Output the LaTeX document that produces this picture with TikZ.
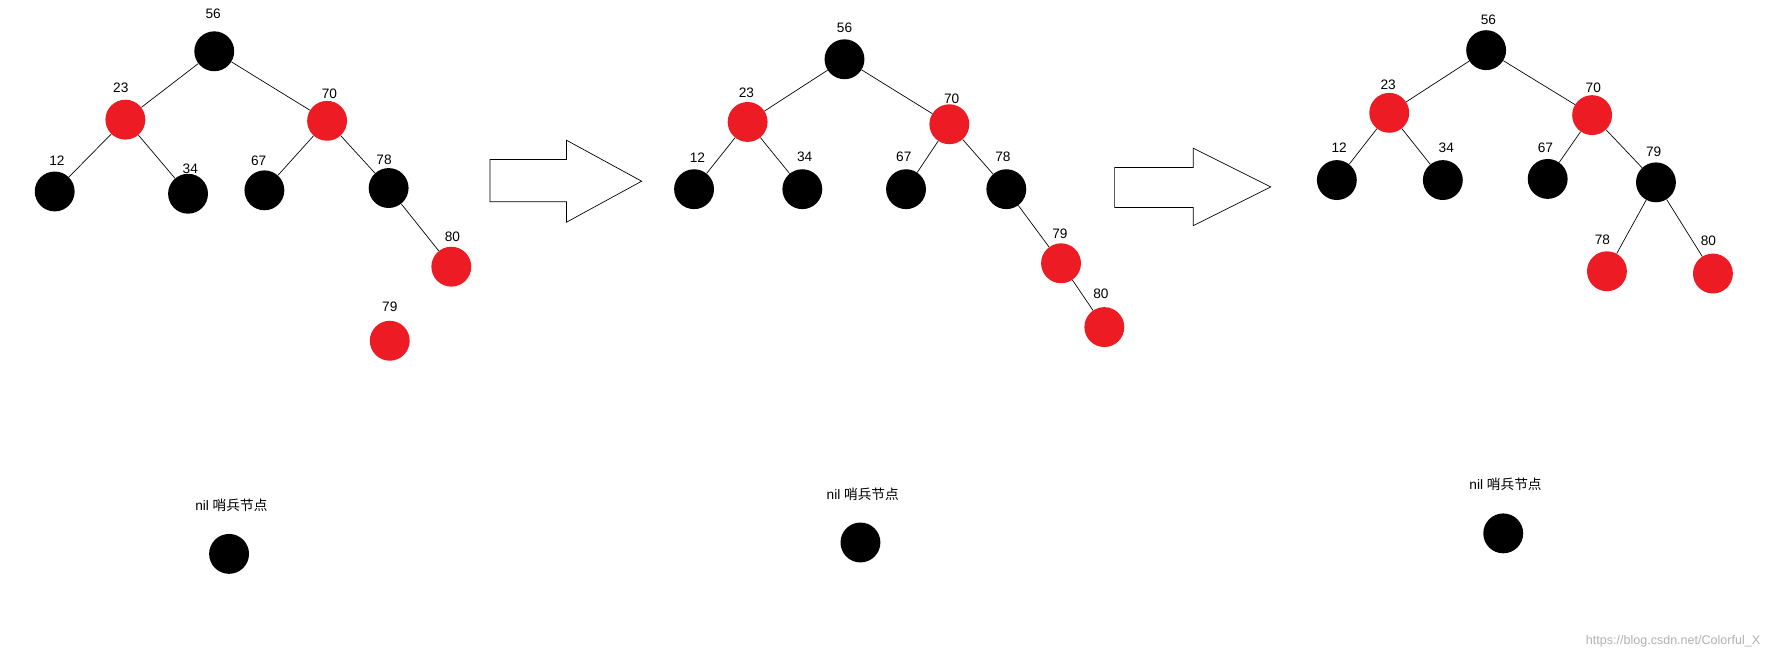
\documentclass[tikz,border=0pt]{standalone}
\usepackage{fontspec}
\setmainfont{Liberation Sans}
\newfontfamily\cjk{Noto Sans CJK SC}
\definecolor{rbred}{HTML}{ED1C24}
\begin{document}
\begin{tikzpicture}[x=1pt,y=-1pt,
  bn/.style={circle,fill=black,minimum size=35pt,inner sep=0pt},
  rn/.style={circle,fill=rbred,minimum size=35pt,inner sep=0pt},
  lb/.style={font=\fontsize{12}{12}\selectfont,inner sep=0pt},
  ed/.style={draw=black,line width=0.6pt},
  barrow/.style={draw=black,line width=0.6pt,fill=white}]
\useasboundingbox[fill=white] (0,0) rectangle (1568,576);
% tree 1
\node[bn] (a56) at (188,45) {}; \node[lb] at (187,12) {56};
\node[rn] (a23) at (110,105) {}; \node[lb] at (106,77) {23};
\node[rn] (a70) at (287,106) {}; \node[lb] at (289,82) {70};
\node[bn] (a12) at (48,168) {}; \node[lb] at (50,141) {12};
\node[bn] (a34) at (165,170) {}; \node[lb] at (167,148) {34};
\node[bn] (a67) at (232,167) {}; \node[lb] at (227,141) {67};
\node[bn] (a78) at (341,165) {}; \node[lb] at (337,140) {78};
\node[rn] (a80) at (396,234) {}; \node[lb] at (397,208) {80};
\node[rn] (a79) at (342,299) {}; \node[lb] at (342,269) {79};
\node[bn] (anil) at (201,486) {}; \node[lb] (anilt) at (203,443) {nil {\cjk 哨兵节点}};
\draw[ed] (a56)--(a23) (a56)--(a70) (a23)--(a12) (a23)--(a34) (a70)--(a67) (a70)--(a78) (a78)--(a80);
% arrow 1
\draw[barrow] (430,140)--(497,140)--(497,123)--(563,159)--(497,195)--(497,177)--(430,177)--cycle;
% tree 2
\node[bn] (b56) at (741,52) {}; \node[lb] at (741,24) {56};
\node[rn] (b23) at (656,107) {}; \node[lb] at (655,81) {23};
\node[rn] (b70) at (833,109) {}; \node[lb] at (835,87) {70};
\node[bn] (b12) at (609,166) {}; \node[lb] at (612,138) {12};
\node[bn] (b34) at (704,166) {}; \node[lb] at (706,138) {34};
\node[bn] (b67) at (795,166) {}; \node[lb] at (793,138) {67};
\node[bn] (b78) at (883,166) {}; \node[lb] at (880,138) {78};
\node[rn] (b79) at (931,231) {}; \node[lb] at (930,205) {79};
\node[rn] (b80) at (969,287) {}; \node[lb] at (966,258) {80};
\node[bn] (bnil) at (755,476) {}; \node[lb] (bnilt) at (757,434) {nil {\cjk 哨兵节点}};
\draw[ed] (b56)--(b23) (b56)--(b70) (b23)--(b12) (b23)--(b34) (b70)--(b67) (b70)--(b78) (b78)--(b79) (b79)--(b80);
% arrow 2
\draw[barrow] (978,147)--(1047,147)--(1047,130)--(1115,164)--(1047,198)--(1047,182)--(978,182)--cycle;
% tree 3
\node[bn] (c56) at (1304,44) {}; \node[lb] at (1306,17) {56};
\node[rn] (c23) at (1219,99) {}; \node[lb] at (1218,74) {23};
\node[rn] (c70) at (1397,101) {}; \node[lb] at (1398,77) {70};
\node[bn] (c12) at (1173,158) {}; \node[lb] at (1175,130) {12};
\node[bn] (c34) at (1266,158) {}; \node[lb] at (1269,130) {34};
\node[bn] (c67) at (1358,157) {}; \node[lb] at (1356,130) {67};
\node[bn] (c79) at (1453,160) {}; \node[lb] at (1451,133) {79};
\node[rn] (c78) at (1410,238) {}; \node[lb] at (1406,210) {78};
\node[rn] (c80) at (1503,240) {}; \node[lb] at (1499,211) {80};
\node[bn] (cnil) at (1319,468) {}; \node[lb] (cnilt) at (1321,425) {nil {\cjk 哨兵节点}};
\draw[ed] (c56)--(c23) (c56)--(c70) (c23)--(c12) (c23)--(c34) (c70)--(c67) (c70)--(c79) (c79)--(c78) (c79)--(c80);
\node[lb,text=gray!60,font=\fontsize{11}{11}\selectfont] (wm) at (1468,563) {https://blog.csdn.net/Colorful\_X};
\end{tikzpicture}
\end{document}
